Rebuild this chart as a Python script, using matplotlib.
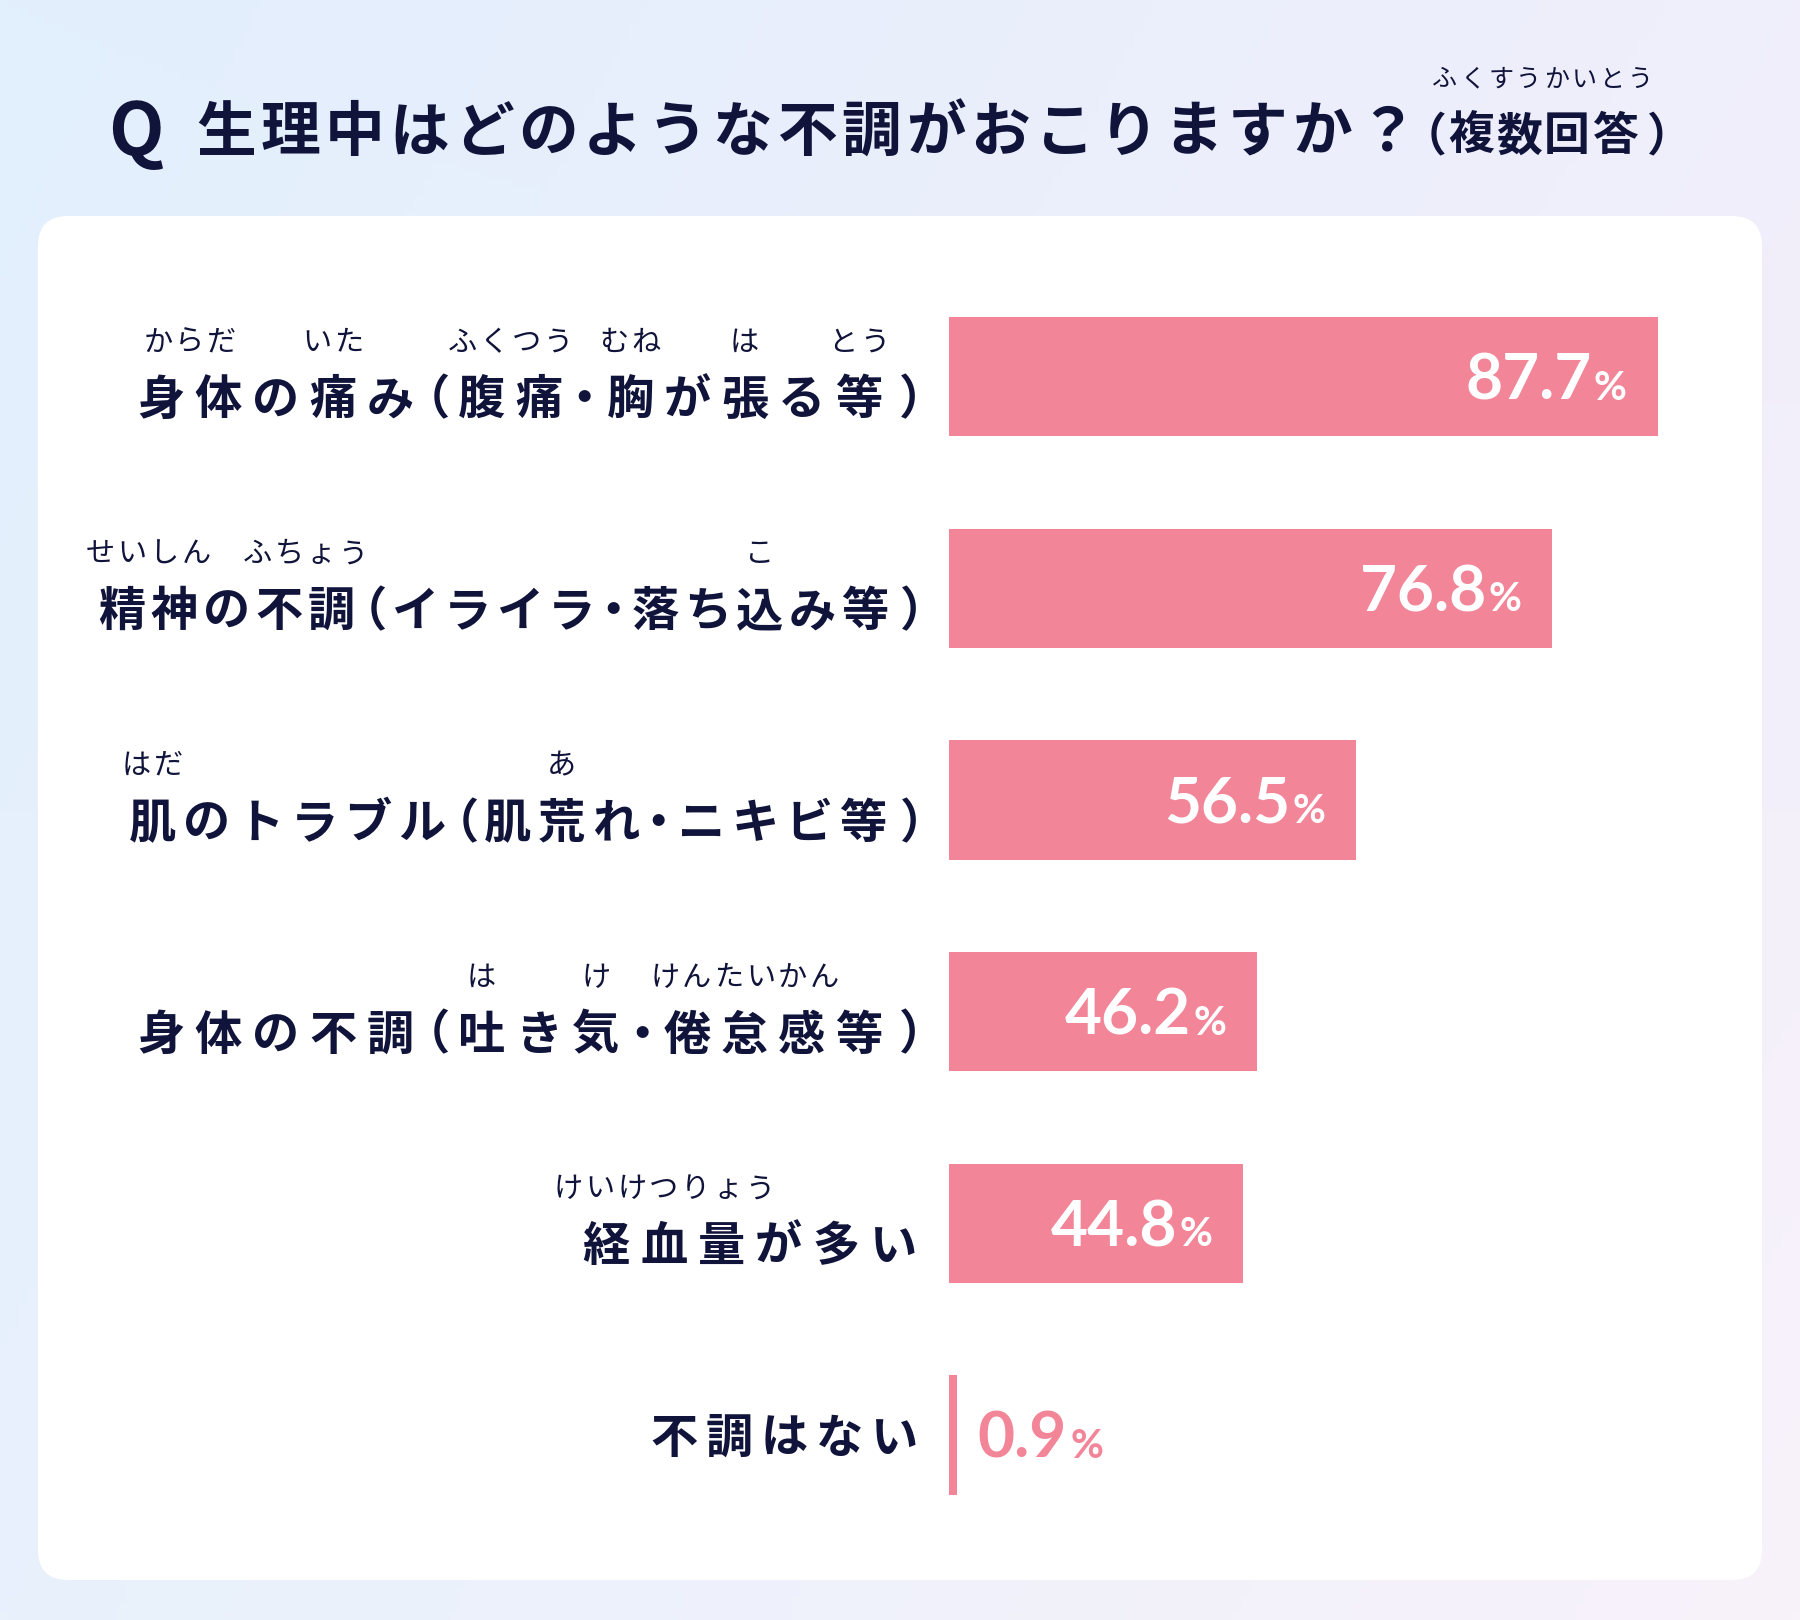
import numpy as np
import matplotlib
matplotlib.use("Agg")
import matplotlib.pyplot as plt
from matplotlib.patches import FancyBboxPatch

plt.rcParams['font.family'] = ['Noto Sans CJK JP', 'DejaVu Sans']

# ---- data ----
categories = [
    "身体の痛み（腹痛・胸が張る等）",
    "精神の不調（イライラ・落ち込み等）",
    "肌のトラブル（肌荒れ・ニキビ等）",
    "身体の不調（吐き気・倦怠感等）",
    "経血量が多い",
    "不調はない",
]
values = [87.7, 76.8, 56.5, 46.2, 44.8, 0.9]
# furigana: (first char index, number of chars, reading)
ruby = [
    [(0, 2, "からだ"), (3, 1, "いた"), (6, 2, "ふくつう"), (9, 1, "むね"), (11, 1, "は"), (13, 1, "とう")],
    [(0, 2, "せいしん"), (3, 2, "ふちょう"), (13, 1, "こ")],
    [(0, 1, "はだ"), (8, 1, "あ")],
    [(6, 1, "は"), (8, 1, "け"), (10, 3, "けんたいかん")],
    [(0, 3, "けいけつりょう")],
    [],
]
title_q = "Q"
title_main = "生理中はどのような不調がおこりますか？"
title_note = "（複数回答）"
title_note_ruby = "ふくすうかいとう"

# ---- style / layout ----
W, H = 1800, 1620
TEXT = '#10133a'
PINK = '#f28598'
NUM_FONT = ['Lato', 'DejaVu Sans']
X0 = 14.35          # value at the left edge of the bar area
PX_PER_PCT = 9.655
label_pitch = [57.2, 52.3, 53.8, 57.2, 57.4, 55.1]
LABEL_RIGHT = 922
NARROW = "（）・"


def cells(text, pitch, narrow=0.6):
    return [pitch * narrow if c in NARROW else pitch for c in text]


def put_chars(ax, text, x_start, y_mid, pitch, size, weight='bold', color=TEXT):
    """Draw text char by char with fixed pitch; returns cell spans."""
    em = size * 100 / 72
    base = y_mid + 0.38 * em
    spans = []
    x = x_start
    for c, w in zip(text, cells(text, pitch)):
        # full-width brackets keep their ink on one side of the em box
        if c == "（":
            cx = x + 0.5 * w - 0.2 * em
        elif c == "）":
            cx = x + 0.75 * w + 0.2 * em
        else:
            cx = x + w / 2
        ax.text(cx, base, c, ha='center', va='baseline', fontsize=size,
                fontweight=weight, color=color)
        spans.append((x, x + w))
        x += w
    return spans


fig = plt.figure(figsize=(W / 100, H / 100), dpi=100)

# background gradient + white card
bg = fig.add_axes([0, 0, 1, 1])
bg.set_xlim(0, W)
bg.set_ylim(H, 0)
bg.axis('off')
u = np.linspace(0, 1, 200)[None, :, None]
v = np.linspace(0, 1, 200)[:, None, None]
tl, tr = np.array([226, 239, 253]), np.array([240, 238, 251])
bl, br = np.array([232, 241, 252]), np.array([248, 242, 250])
grad = ((1 - u) * (1 - v) * tl + u * (1 - v) * tr + (1 - u) * v * bl + u * v * br) / 255
bg.imshow(grad, extent=(0, W, H, 0), aspect='auto', zorder=0)
bg.add_patch(FancyBboxPatch((38, 216), 1724, 1364, boxstyle="round,pad=0,rounding_size=30",
                            fc='white', ec='none', zorder=1))

# title
put_chars(bg, title_q, 136 - 32, 128, 64, 52)
put_chars(bg, title_main, 193.75, 128, 64.5, 43)
note_spans = put_chars(bg, title_note, 1418, 133, 48, 33)
nx = (note_spans[1][0] + note_spans[4][1]) / 2
rp = 28
put_chars(bg, title_note_ruby, nx - rp * len(title_note_ruby) / 2, 77, rp, 18, weight='normal')

# bar area
ax = fig.add_axes([949.4 / W, 1 - 1540.8 / H, (1700 - 949.4) / W, (1540.8 - 270.7) / H])
ax.set_xlim(X0, X0 + (1700 - 949.4) / PX_PER_PCT)
ax.set_ylim(len(values) - 0.5, -0.5)
ax.axis('off')
ax.patch.set_alpha(0)

ypos = np.arange(len(values))
bar_h = 0.564
ax.barh(ypos, values, left=0, height=bar_h, color=PINK, zorder=2)

fig.canvas.draw()
renderer = fig.canvas.get_renderer()

for i, val in enumerate(values):
    if val > X0:
        ax.annotate('%', xy=(val, i), xytext=(-31, -23), textcoords='offset pixels',
                    ha='right', va='baseline', fontsize=29, fontweight='bold',
                    color='white', family=NUM_FONT)
        ax.annotate(f'{val:.1f}', xy=(val, i), xytext=(-66, -23), textcoords='offset pixels',
                    ha='right', va='baseline', fontsize=46, fontweight='bold',
                    color='white', family=NUM_FONT)
    else:
        # too small to reach the bar area: thin marker bar
        ax.barh(i, 8 / PX_PER_PCT, left=X0, height=bar_h, color=PINK, zorder=2)
        num = ax.annotate(f'{val:.1f}', xy=(X0, i), xytext=(28, -23), textcoords='offset pixels',
                          ha='left', va='baseline', fontsize=46, fontweight='bold',
                          color=PINK, family=NUM_FONT)
        bb = num.get_window_extent(renderer)
        ax.annotate('%', xy=(X0, i), xytext=(28 + bb.width + 4, -23), textcoords='offset pixels',
                    ha='left', va='baseline', fontsize=29, fontweight='bold',
                    color=PINK, family=NUM_FONT)

# category labels with furigana
for i, (lab, rb) in enumerate(zip(categories, ruby)):
    disp = ax.transData.transform((X0, i))
    yc = bg.transData.inverted().transform(disp)[1]
    if rb:
        yc += 20
    p = label_pitch[i]
    x_start = LABEL_RIGHT - sum(cells(lab, p))
    spans = put_chars(bg, lab, x_start, yc, p, 34)
    for start, n, reading in rb:
        cx = (spans[start][0] + spans[start + n - 1][1]) / 2
        rp = 32
        put_chars(bg, reading, cx - rp * len(reading) / 2, yc - 57, rp, 21, weight='normal')

fig.savefig('out.png', dpi=100)
